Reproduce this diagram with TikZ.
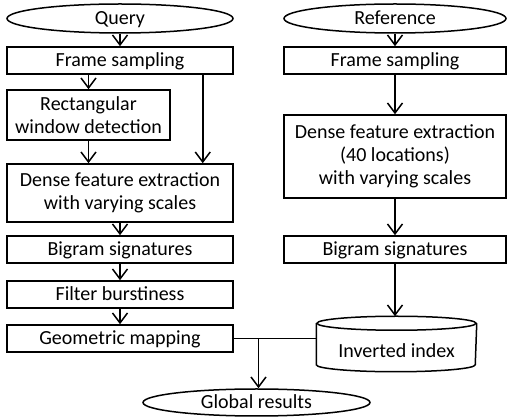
\documentclass[tikz,border=0pt]{standalone}
\usepackage{fontspec}
\setmainfont{Carlito}
\usetikzlibrary{arrows.meta,calc,shapes.geometric}
\begin{document}
\begin{tikzpicture}[x=1pt,y=-1pt,line width=1.5pt,
  every node/.style={font=\fontsize{20}{23}\selectfont},
  box/.style={draw,rectangle,inner sep=0pt,minimum width=226pt,minimum height=27pt,text height=13pt,text depth=0pt},
  mbox/.style={draw,rectangle,inner sep=0pt,align=center,minimum width=226pt},
  ell/.style={draw,ellipse,inner sep=0pt,minimum width=226pt,minimum height=29pt,text height=13pt,text depth=0pt},
  arr/.style={-{Straight Barb[length=10pt,width=15pt]}}]
\useasboundingbox (0,0) rectangle (507,419);
% left column
\node[ell] (query) at (120,18.5) {Query};
\node[box] (lframe) at (120,60.5) {Frame sampling};
\node[mbox,minimum width=163pt,minimum height=50pt] (rect) at (88.5,115) {Rectangular\\window detection};
\node[mbox,minimum height=58pt] (ldense) at (120,193) {Dense feature extraction\\with varying scales};
\node[box] (lbig) at (120,249.5) {Bigram signatures};
\node[box] (filter) at (120,294.5) {Filter burstiness};
\node[box] (geom) at (120,338.5) {Geometric mapping};
% right column
\node[ell,minimum width=222pt] (ref) at (395,18.5) {Reference};
\node[box,minimum width=222pt] (rframe) at (395,60.5) {Frame sampling};
\node[mbox,minimum width=222pt,minimum height=83pt] (rdense) at (395,156.5) {Dense feature extraction\\(40 locations)\\with varying scales};
\node[box,minimum width=222pt] (rbig) at (395,249.5) {Bigram signatures};
\node[inner sep=0pt,minimum width=159pt,minimum height=54pt,text height=27pt,text depth=0pt] (inv) at (396.5,344) {Inverted index};
\draw ($(inv.north)+(0,7)$) ellipse [x radius=79.5pt,y radius=7pt];
\draw ($(inv.north west)+(0,7)$) -- ($(inv.south west)+(0,-7)$)
  arc[start angle=180,end angle=360,x radius=79.5pt,y radius=7pt]
  -- ($(inv.north east)+(0,7)$);
% result
\node[ell,minimum width=227pt,minimum height=27pt] (glob) at (256.5,402.5) {Global results};
% connectors
\draw[arr] (query.south) -- (lframe.north);
\draw[arr] (rect.north |- lframe.south) -- (rect.north);
\draw[arr] ($(lframe.south east)+(-31,0)$) -- ($(ldense.north east)+(-31,0)$);
\draw[arr] (rect.south) -- (rect.south |- ldense.north);
\draw[arr] (ldense.south) -- (lbig.north);
\draw[arr] (lbig.south) -- (filter.north);
\draw[arr] (filter.south) -- (geom.north);
\draw[arr] (ref.south) -- (rframe.north);
\draw[arr] (rframe.south) -- (rdense.north);
\draw[arr] (rdense.south) -- (rbig.north);
\draw[arr] (rbig.south) -- (rbig.south |- inv.north);
\draw (geom.east) -- (geom.east -| inv.west);
\coordinate (j) at ($(geom.east)!0.3!(geom.east -| inv.west)$);
\draw[arr] (j) -- (j |- glob.north);
\end{tikzpicture}
\end{document}
